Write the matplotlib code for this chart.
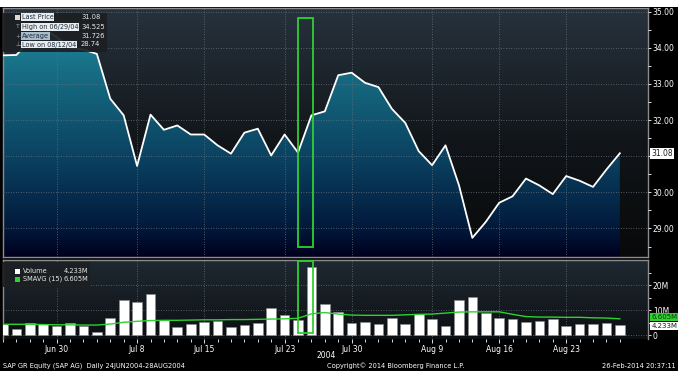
"""
SAP GR Equity daily price / volume chart, Bloomberg style (24 Jun - 27 Aug 2004).
"""

import numpy as np
import pandas as pd
import matplotlib
matplotlib.use("Agg")
import matplotlib.pyplot as plt
from matplotlib.patches import Rectangle, Polygon
from matplotlib.colors import LinearSegmentedColormap

dates = pd.bdate_range("2004-06-24", "2004-08-27")

price = [33.79, 33.80, 34.20, 34.525, 34.30, 34.00, 33.95, 33.83,
         32.59, 32.13, 30.73, 32.15, 31.73, 31.85, 31.60, 31.60,
         31.30, 31.07, 31.65, 31.76, 31.02, 31.60, 31.10, 32.13,
         32.24, 33.24, 33.31, 33.03, 32.91, 32.31, 31.92, 31.14,
         30.75, 31.30, 30.20, 28.74, 29.18, 29.71, 29.89, 30.38,
         30.19, 29.95, 30.45, 30.32, 30.15, 30.63, 31.08]

# volume in millions of shares
volume_m = [4.4, 2.5, 5.1, 4.5, 3.9, 4.8, 3.7, 1.5,
            6.8, 14.3, 13.5, 16.5, 6.0, 3.5, 4.5, 5.2,
            5.7, 3.5, 4.1, 4.9, 11.1, 8.0, 6.0, 27.5,
            12.5, 9.2, 4.9, 5.2, 4.5, 6.9, 4.5, 8.7,
            6.5, 3.7, 14.2, 15.5, 9.1, 6.8, 6.5, 5.2,
            5.9, 6.4, 3.6, 4.5, 4.5, 5.1, 4.233]

# 15 day simple moving average of volume, millions
smavg_m = [4.4, 4.4, 4.4, 4.3, 4.2, 4.2, 4.1, 4.1,
           4.5, 5.2, 5.6, 5.9, 6.0, 6.0, 6.1, 6.2,
           6.2, 6.3, 6.3, 6.4, 6.5, 6.6, 6.8, 8.6,
           9.1, 8.5, 8.1, 8.0, 8.0, 8.0, 8.2, 8.4,
           8.5, 8.9, 9.3, 9.4, 9.4, 9.4, 8.4, 7.5,
           7.3, 7.3, 7.2, 7.2, 7.0, 6.9, 6.605]

tick_dates = ["2004-06-30", "2004-07-08", "2004-07-15", "2004-07-23",
              "2004-07-30", "2004-08-09", "2004-08-16", "2004-08-23"]
tick_labels = ["Jun 30", "Jul 8", "Jul 15", "Jul 23",
               "Jul 30", "Aug 9", "Aug 16", "Aug 23"]
price_ticks = [29, 30, 31, 32, 33, 34, 35]
vol_ticks = [0, 10, 20]
vol_tick_labels = ["0", "10M", "20M"]

last_price, high_price, avg_price, low_price = 31.08, 34.525, 31.726, 28.74
high_date, low_date = "06/29/04", "08/12/04"
last_vol, last_sma = 4.233, 6.605
highlight_date = "2004-07-26"

W, H = 678, 371
FONT = "DejaVu Sans"
GREEN = "#2fd02f"


def fx(px):
    return px / W


def fy(py):
    return 1 - py / H


x = np.arange(len(dates))
tick_idx = [dates.get_loc(pd.Timestamp(d)) for d in tick_dates]
hl = dates.get_loc(pd.Timestamp(highlight_date))

fig = plt.figure(figsize=(W / 100, H / 100), dpi=100, facecolor="black")
fig.patches.append(Rectangle((0, fy(7)), 1, 7 / H, transform=fig.transFigure,
                             facecolor="white", edgecolor="none"))

ax = fig.add_axes([fx(3), fy(257), fx(645), 249 / H])
axv = fig.add_axes([fx(3), fy(339), fx(645), 79 / H])

grad = np.linspace(0, 1, 256).reshape(-1, 1)
ylo, yhi = 28.21, 35.1
xlo, xhi = 0, 48.1

# --- price panel ---
bg = LinearSegmentedColormap.from_list("bg", [(0, "#08090a"), (0.45, "#111519"), (1, "#27323d")])
ax.imshow(grad, cmap=bg, origin="lower", extent=(0, 1, 0, 1), transform=ax.transAxes,
          aspect="auto", zorder=0)
fill_cm = LinearSegmentedColormap.from_list(
    "fill", [(0, "#00001e"), (0.12, "#021a3c"), (0.4, "#0b4261"), (0.7, "#15677f"), (1, "#2290a2")])
im = ax.imshow(grad, cmap=fill_cm, origin="lower", extent=(x[0], x[-1], ylo, yhi),
               aspect="auto", zorder=1)
poly = Polygon(np.column_stack([np.r_[x, x[-1], x[0]], np.r_[price, ylo, ylo]]),
               closed=True, facecolor="none", edgecolor="none", transform=ax.transData)
ax.add_patch(poly)
im.set_clip_path(poly)
ax.plot(x, price, color="white", lw=1.3, zorder=3)

ax.add_patch(Rectangle((hl, 28.48), 1.15, 34.81 - 28.48, fill=False,
                       edgecolor=GREEN, lw=1.3, zorder=4))

ax.set_xlim(xlo, xhi)
ax.set_ylim(ylo, yhi)
ax.set_xticks(tick_idx)
ax.set_xticklabels([])
ax.tick_params(axis="x", length=0)
ax.yaxis.tick_right()
ax.set_yticks(price_ticks)
# the last-price tag takes the place of the 31.00 label
ax.set_yticklabels(["" if v == round(last_price) else f"{v:.2f}" for v in price_ticks])
ax.set_yticks(np.arange(28.5, 35, 1.0), minor=True)
ax.tick_params(axis="y", which="both", colors="white", labelsize=5.5, length=2, pad=1.5, width=0.6)
for lab in ax.get_yticklabels():
    lab.set_family(FONT)
ax.grid(True, color="#66717b", ls=(0, (1, 2)), lw=0.6)
ax.set_axisbelow(False)
for g in ax.get_xgridlines() + ax.get_ygridlines():
    g.set_zorder(2)
for s in ax.spines.values():
    s.set_color("#8c8c8c")
    s.set_linewidth(1.0)

ax.text(1.005, last_price, f"{last_price:.2f}", transform=ax.get_yaxis_transform(),
        fontsize=5.5, family=FONT, color="#1a1a1a", va="center", ha="left",
        bbox=dict(boxstyle="square,pad=0.15", fc="white", ec="none"), clip_on=False, zorder=6)

# legend box of price panel
ax.add_patch(Rectangle((0, 1 - 43.7 / 249), 104 / 645, 38.4 / 249, transform=ax.transAxes,
                       facecolor="#1c1f22", alpha=0.92, edgecolor="none", zorder=5))
rows = [("Last Price", f"{last_price:.2f}", 17),
        (f"High on {high_date}", f"{high_price:.3f}", 27),
        ("Average", f"{avg_price:.3f}", 36),
        (f"Low on {low_date}", f"{low_price:.2f}", 44.5)]
for i, (lab, val, yy) in enumerate(rows):
    fig.text(fx(22), fy(yy), lab, fontsize=4.7, family=FONT, color="#1b2c3c", va="center",
             bbox=dict(boxstyle="square,pad=0.08", fc="#e9ecef" if i != 2 else "#a9bccb", ec="none"),
             zorder=7)
    fig.text(fx(81), fy(yy), val, fontsize=4.9, family=FONT, color="#e8e8e8", va="center", zorder=7)
fig.patches.append(Rectangle((fx(15), fy(20)), fx(5), 5 / H, transform=fig.transFigure,
                             facecolor="#d8d8d8", edgecolor="none", zorder=7))
for yy, ch in [(27, "T"), (36, "+"), (44.5, "⊥")]:
    fig.text(fx(15.5), fy(yy), ch, fontsize=4.5, family=FONT, color="#9aa0a6", va="center", zorder=7)

# --- volume panel ---
vbg = LinearSegmentedColormap.from_list("vbg", [(0, "#0c0f12"), (1, "#1f2932")])
axv.imshow(grad, cmap=vbg, origin="lower", extent=(0, 1, 0, 1), transform=axv.transAxes,
           aspect="auto", zorder=0)
axv.bar(x, volume_m, width=0.72, color="white", edgecolor="#8a8a8a", lw=0.4, zorder=3)
axv.plot(x, smavg_m, color=GREEN, lw=1.0, zorder=4)
axv.add_patch(Rectangle((hl, 0.8), 1.15, 28.8, fill=False, edgecolor=GREEN, lw=1.3, zorder=5))
axv.set_xlim(xlo, xhi)
axv.set_ylim(-1.5, 30.2)
axv.set_xticks(tick_idx)
axv.set_xticklabels(tick_labels)
axv.set_xticks(x, minor=True)
axv.tick_params(axis="x", which="both", colors="white", labelsize=5.5, pad=1.2, width=0.6)
axv.tick_params(axis="x", which="major", length=3)
axv.tick_params(axis="x", which="minor", length=2)
axv.yaxis.tick_right()
axv.set_yticks(vol_ticks)
axv.set_yticklabels(vol_tick_labels)
axv.set_yticks([5, 15, 25], minor=True)
axv.tick_params(axis="y", which="both", colors="white", labelsize=5.5, length=2, pad=1.5, width=0.6)
for lab in axv.get_xticklabels() + axv.get_yticklabels():
    lab.set_family(FONT)
axv.grid(True, color="#66717b", ls=(0, (1, 2)), lw=0.6)
for s in axv.spines.values():
    s.set_color("#8c8c8c")
    s.set_linewidth(1.0)
axv.spines["bottom"].set_visible(False)

ytr = axv.get_yaxis_transform()
axv.text(1.005, last_sma + 0.6, f"{last_sma:.3f}M", transform=ytr, fontsize=5, family=FONT,
         color="#0a3a0a", va="center", ha="left", clip_on=False, zorder=6,
         bbox=dict(boxstyle="square,pad=0.12", fc=GREEN, ec="none"))
axv.text(1.005, last_vol - 0.4, f"{last_vol:.3f}M", transform=ytr, fontsize=5, family=FONT,
         color="#1a1a1a", va="center", ha="left", clip_on=False, zorder=7,
         bbox=dict(boxstyle="square,pad=0.12", fc="white", ec="none"))

# legend of volume panel
axv.add_patch(Rectangle((0, 1 - 27 / 79), 87 / 645, 25 / 79, transform=axv.transAxes,
                        facecolor="#1c1f22", alpha=0.92, edgecolor="none", zorder=6))
for yy, lab, val, col in [(271, "Volume", f"{last_vol:.3f}M", "white"),
                          (279, "SMAVG (15)", f"{last_sma:.3f}M", GREEN)]:
    fig.patches.append(Rectangle((fx(15), fy(yy + 2.5)), fx(5), 5 / H, transform=fig.transFigure,
                                 facecolor=col, edgecolor="none", zorder=7))
    fig.text(fx(23), fy(yy), lab, fontsize=4.8, family=FONT, color="#e8e8e8", va="center", zorder=8)
    fig.text(fx(88), fy(yy), val, fontsize=4.8, family=FONT, color="#e8e8e8", va="center",
             ha="right", zorder=8)

fig.text(fx(326), fy(356), "2004", fontsize=5.5, family=FONT, color="white", ha="center", va="center")
fig.text(fx(3), fy(366), "SAP GR Equity (SAP AG)  Daily 24JUN2004-28AUG2004", fontsize=4.8,
         family=FONT, color="white", va="center")
fig.text(fx(327), fy(366), "Copyright\u00a9 2014 Bloomberg Finance L.P.", fontsize=4.8,
         family=FONT, color="white", va="center")
fig.text(fx(676), fy(366), "26-Feb-2014 20:37:11", fontsize=4.8, family=FONT, color="white",
         va="center", ha="right")

fig.savefig("out.png", dpi=100, facecolor="black")
